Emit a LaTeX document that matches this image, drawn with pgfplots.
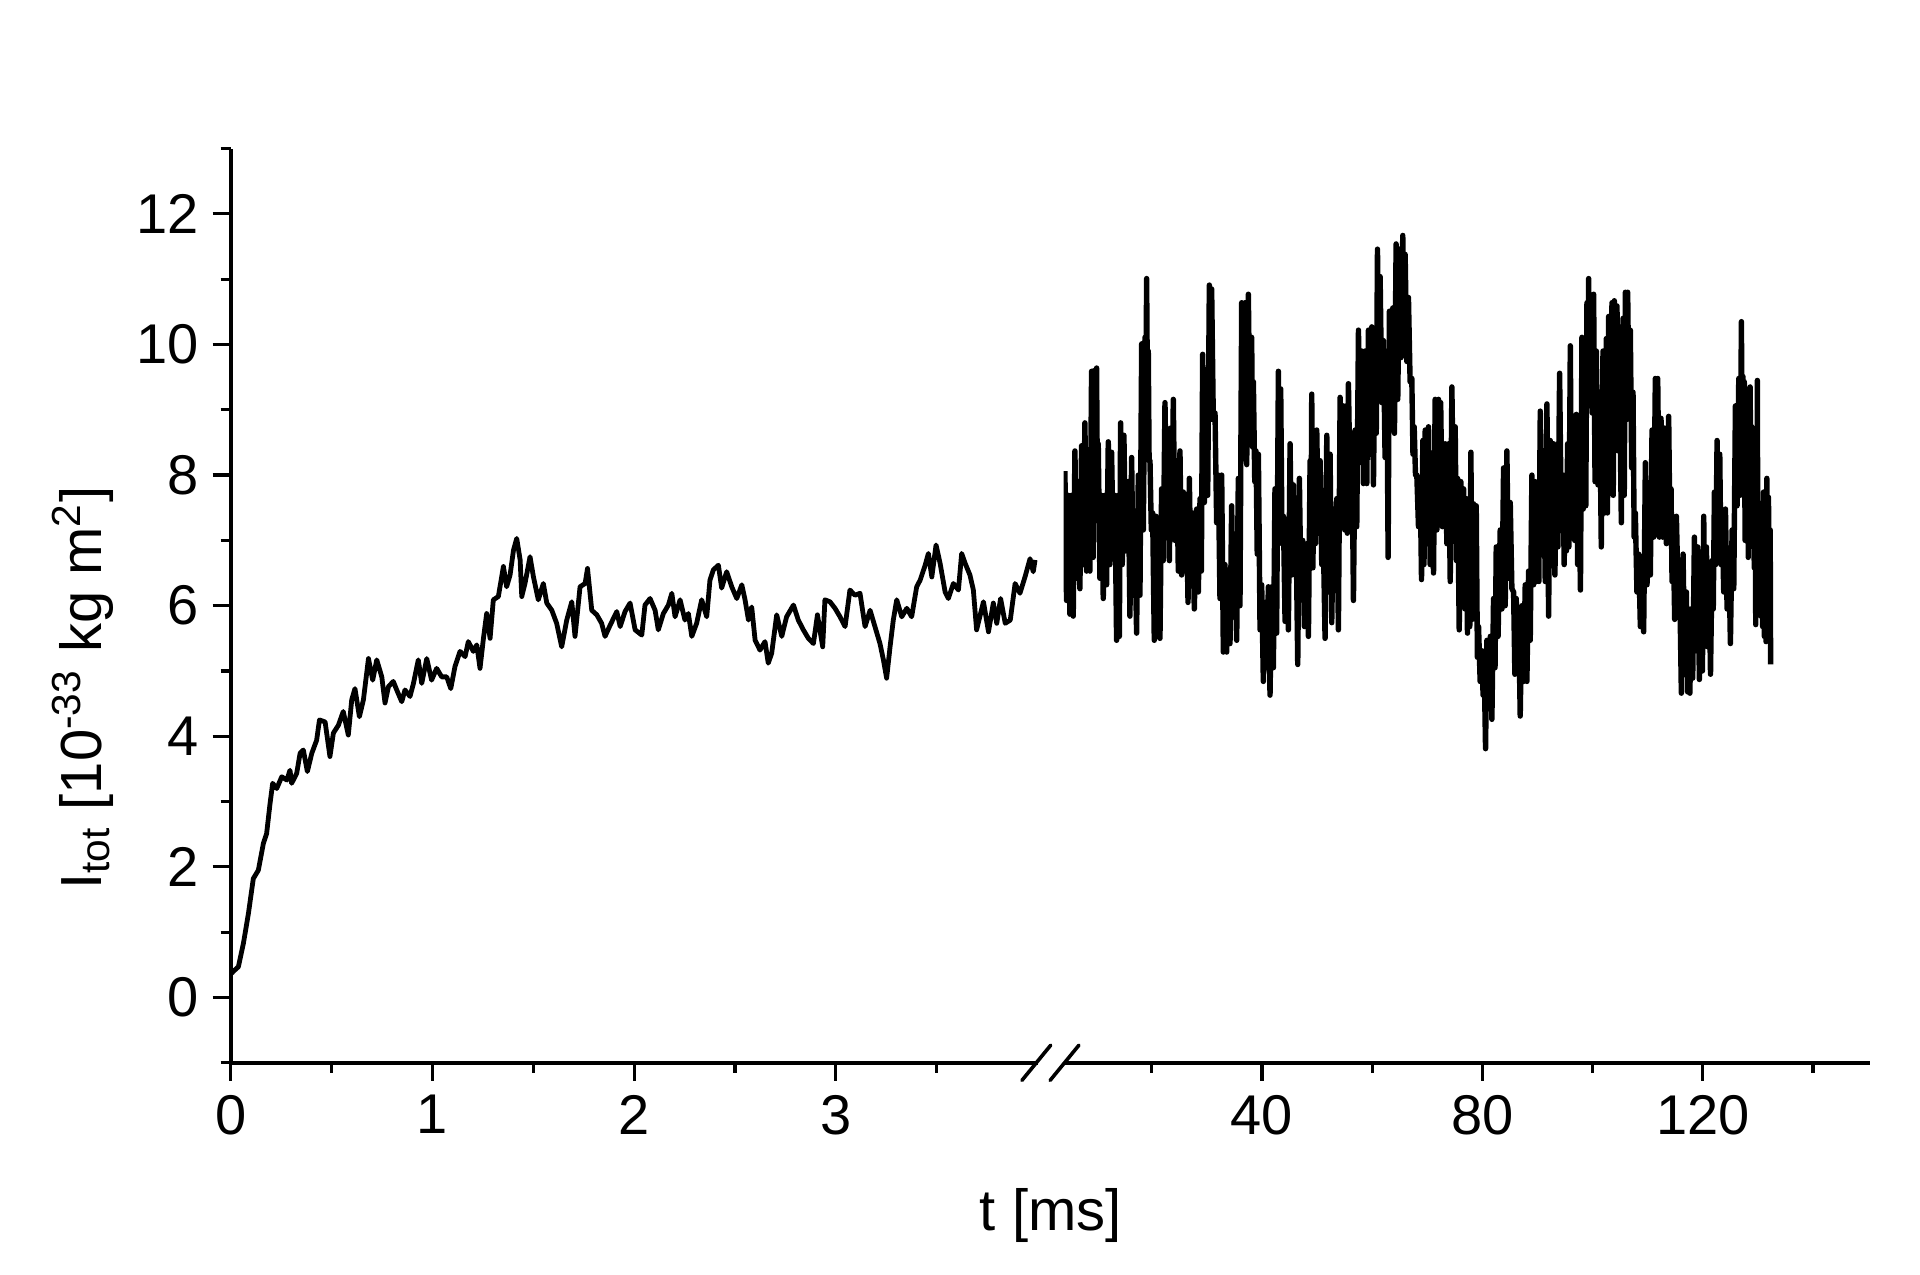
\documentclass[border=0pt]{standalone}
\usepackage{fontspec}
\setmainfont{Liberation Sans}
\usepackage{pgfplots}
\pgfplotsset{compat=1.18}
\begin{document}
\begin{tikzpicture}
\path[use as bounding box] (-57.68pt,-53.05pt) rectangle (422.32pt,265.7pt);
\pgfplotsset{
  brk/.style={
    scale only axis, width=201.7pt, height=228.55pt,
    ymin=-1, ymax=13,
    axis x line*=bottom,
    x axis line style={-, line width=0.9pt},
    y axis line style={-, line width=0.9pt},
    tick style={line width=0.8pt, black},
    tick align=outside,
    major tick length=4.5pt, minor tick length=2.5pt,
    tick label style={font=\fontsize{14}{16}\selectfont},
    /pgf/number format/assume math mode=true,
  },
  trace/.style={black, no markers, line width=1.2pt, line join=round},
}
% left part
\begin{axis}[brk, at={(0pt,0pt)}, anchor=south west,
  xmin=0, xmax=4,
  axis y line*=left,
  xtick={0,1,2,3}, minor xtick={0.5,1.5,2.5,3.5},
  ytick={0,2,...,12}, minor ytick={-1,1,...,13},
]
\addplot[trace] coordinates {
(0.005,0.37) (0.013,0.40) (0.038,0.47) (0.063,0.83) (0.088,1.29) (0.112,1.82) (0.137,1.95)
(0.162,2.36) (0.178,2.51) (0.195,2.97) (0.208,3.28) (0.228,3.20) (0.253,3.38) (0.278,3.33)
(0.294,3.48) (0.302,3.28) (0.327,3.43) (0.344,3.74) (0.360,3.79) (0.380,3.46) (0.402,3.74)
(0.426,3.94) (0.440,4.25) (0.468,4.22) (0.492,3.69) (0.509,4.05) (0.534,4.17) (0.558,4.38)
(0.583,4.02) (0.600,4.56) (0.616,4.73) (0.638,4.30) (0.658,4.56) (0.683,5.19) (0.704,4.86)
(0.724,5.17) (0.749,4.91) (0.765,4.51) (0.782,4.76) (0.806,4.84) (0.823,4.71) (0.848,4.53)
(0.864,4.71) (0.889,4.61) (0.906,4.81) (0.930,5.17) (0.947,4.81) (0.972,5.19) (0.996,4.86)
(1.021,5.04) (1.046,4.91) (1.071,4.91) (1.091,4.73) (1.112,5.07) (1.137,5.30) (1.162,5.22)
(1.178,5.45) (1.203,5.30) (1.220,5.40) (1.236,5.04) (1.253,5.50) (1.269,5.88) (1.286,5.50)
(1.302,6.09) (1.327,6.14) (1.352,6.60) (1.368,6.29) (1.385,6.47) (1.402,6.85) (1.418,7.03)
(1.435,6.70) (1.443,6.14) (1.459,6.34) (1.484,6.75) (1.501,6.44) (1.525,6.09) (1.550,6.34)
(1.567,6.04) (1.592,5.93) (1.616,5.73) (1.641,5.37) (1.666,5.78) (1.691,6.06) (1.707,5.53)
(1.732,6.29) (1.757,6.34) (1.769,6.57) (1.790,5.93) (1.815,5.86) (1.839,5.73) (1.856,5.53)
(1.881,5.70) (1.914,5.91) (1.931,5.68) (1.955,5.91) (1.980,6.04) (2.005,5.63) (2.038,5.55)
(2.054,6.01) (2.079,6.11) (2.104,5.93) (2.120,5.63) (2.145,5.88) (2.170,6.01) (2.187,6.19)
(2.203,5.83) (2.228,6.09) (2.252,5.78) (2.269,5.88) (2.286,5.53) (2.310,5.73) (2.335,6.09)
(2.360,5.83) (2.376,6.39) (2.393,6.55) (2.418,6.62) (2.434,6.27) (2.459,6.52) (2.484,6.29)
(2.509,6.11) (2.534,6.32) (2.550,6.09) (2.567,5.78) (2.583,5.98) (2.600,5.47) (2.624,5.32)
(2.649,5.45) (2.665,5.12) (2.682,5.27) (2.707,5.86) (2.732,5.53) (2.756,5.83) (2.790,6.01)
(2.814,5.78) (2.839,5.63) (2.864,5.50) (2.889,5.42) (2.909,5.86) (2.935,5.37) (2.946,6.09)
(2.971,6.06) (2.996,5.96) (3.021,5.83) (3.046,5.68) (3.070,6.24) (3.095,6.16) (3.120,6.19)
(3.145,5.68) (3.170,5.93) (3.194,5.68) (3.219,5.42) (3.236,5.17) (3.252,4.89) (3.269,5.37)
(3.285,5.78) (3.302,6.09) (3.327,5.83) (3.352,5.96) (3.376,5.83) (3.401,6.29) (3.418,6.39)
(3.443,6.62) (3.459,6.80) (3.476,6.44) (3.497,6.93) (3.517,6.65) (3.542,6.21) (3.558,6.11)
(3.583,6.34) (3.608,6.24) (3.624,6.80) (3.641,6.65) (3.665,6.47) (3.682,6.24) (3.698,5.63)
(3.732,6.06) (3.757,5.60) (3.781,6.04) (3.798,5.73) (3.817,6.11) (3.840,5.73) (3.865,5.78)
(3.889,6.34) (3.913,6.19) (3.938,6.44) (3.963,6.72) (3.979,6.52) (3.988,6.70)
};
\end{axis}
% right part
\begin{axis}[brk, at={(208.2pt,0pt)}, anchor=south west,
  xmin=4, xmax=150.4,
  axis y line=none,
  xtick={40,80,120}, minor xtick={20,60,100,140},
]
\addplot[trace, line width=1.35pt] coordinates {
(4.25,8.06) (4.55,6.08) (4.86,7.69) (5.16,5.87) (5.46,7.69) (5.76,5.84) (6.07,8.37) (6.37,6.42)
(6.67,7.90) (6.97,6.26) (7.28,8.45) (7.58,6.63) (7.88,8.80) (8.18,6.53) (8.49,8.22) (8.79,6.53)
(9.09,9.59) (9.39,6.74) (9.55,9.60) (9.80,7.30) (10.00,9.64) (10.15,7.69) (10.30,8.48) (10.60,6.42)
(10.91,7.69) (11.21,6.11) (11.51,7.69) (11.81,6.32) (12.12,8.51) (12.42,6.63) (12.72,8.35) (13.02,6.84)
(13.33,7.69) (13.63,5.47) (13.93,7.69) (14.13,5.53) (14.36,8.80) (14.66,6.63) (14.96,8.61) (15.26,6.84)
(15.75,7.90) (16.05,5.84) (16.36,8.27) (16.66,6.16) (16.96,7.00) (17.26,5.58) (17.57,8.00) (17.87,6.16)
(18.18,10.01) (18.48,7.16) (18.78,10.11) (18.93,9.16) (19.08,11.01) (19.23,9.16) (19.38,9.90) (19.53,8.22)
(19.69,8.22) (19.93,7.16) (20.17,7.42) (20.47,5.47) (20.77,7.37) (20.97,6.11) (21.20,7.00) (21.50,5.50)
(21.80,7.79) (22.10,6.69) (22.41,9.11) (22.71,7.42) (23.01,8.48) (23.21,6.69) (23.43,8.72) (23.68,7.32)
(23.92,9.16) (24.22,7.00) (24.53,8.22) (24.83,6.53) (25.13,8.37) (25.43,6.47) (25.74,7.74) (26.04,6.53)
(26.34,7.42) (26.59,6.05) (26.83,7.95) (27.13,6.32) (27.43,7.42) (27.73,5.95) (28.16,7.48) (28.46,6.21)
(28.77,7.64) (29.01,6.53) (29.25,9.85) (29.55,7.58) (29.86,9.16) (30.16,7.69) (30.46,10.91) (30.67,8.85)
(30.88,10.85) (31.18,8.85) (31.49,8.95) (31.79,7.27) (32.09,8.00) (32.39,6.11) (32.70,8.00) (33.00,5.29)
(33.30,6.63) (33.60,5.29) (33.91,6.53) (34.21,5.42) (34.51,7.53) (34.81,5.84) (35.12,6.53) (35.42,5.47)
(35.72,7.95) (36.02,6.00) (36.33,10.64) (36.63,8.43) (36.94,10.64) (37.24,8.16) (37.54,10.77) (37.84,8.53)
(38.14,10.11) (38.30,8.43) (38.45,9.43) (38.70,7.90) (38.93,8.37) (39.15,6.79) (39.36,8.32) (39.66,5.63)
(39.96,6.32) (40.26,4.84) (40.57,6.05) (40.87,5.05) (41.17,6.29) (41.47,4.63) (41.78,6.29) (42.08,5.05)
(42.37,7.79) (42.67,5.58) (42.99,9.59) (43.20,7.16) (43.41,9.32) (43.65,6.95) (43.90,7.37) (44.20,5.76)
(44.50,7.32) (44.80,5.63) (45.11,8.48) (45.41,6.47) (45.71,7.85) (45.95,6.53) (46.20,7.16) (46.50,5.10)
(46.80,7.95) (47.10,6.11) (47.41,7.00) (47.71,5.68) (48.14,6.95) (48.44,5.53) (48.74,8.22) (48.89,6.58)
(49.04,9.24) (49.25,6.58) (49.47,8.27) (49.70,6.95) (49.95,8.69) (50.25,7.11) (50.56,8.22) (50.86,6.63)
(51.16,6.95) (51.46,5.50) (51.77,8.61) (52.07,6.21) (52.37,8.32) (52.67,5.74) (52.98,7.48) (53.28,6.26)
(53.58,7.64) (53.88,5.63) (54.19,9.19) (54.49,7.53) (54.79,9.06) (55.03,7.16) (55.28,9.06) (55.50,7.11)
(55.70,9.40) (56.00,7.79) (56.31,8.64) (56.61,6.08) (56.91,8.69) (57.21,7.21) (57.52,10.22) (57.82,8.22)
(58.12,9.90) (58.42,7.87) (58.73,9.90) (59.03,7.87) (59.33,10.22) (59.63,8.32) (59.94,10.27) (60.24,7.85)
(60.53,10.17) (60.75,8.64) (60.97,11.46) (61.21,9.53) (61.45,11.04) (61.75,9.11) (62.05,10.06) (62.35,8.27)
(62.66,9.80) (62.90,6.74) (63.14,10.51) (63.44,8.69) (63.75,10.56) (64.05,8.64) (64.35,11.54) (64.65,9.16)
(64.96,11.46) (65.26,9.80) (65.56,11.67) (65.78,9.90) (65.99,11.38) (66.29,9.74) (66.59,10.72) (66.89,9.43)
(67.20,9.48) (67.41,8.32) (67.63,8.74) (67.87,8.00) (68.11,8.00) (68.41,7.21) (68.72,7.90) (68.96,6.40)
(69.20,8.53) (69.41,6.63) (69.63,8.69) (69.93,6.95) (70.23,8.74) (70.53,6.63) (70.84,7.79) (71.14,6.50)
(71.44,9.16) (71.74,7.16) (72.05,9.16) (72.25,7.27) (72.44,9.11) (72.74,7.21) (73.26,8.48) (73.56,6.95)
(73.87,8.48) (74.17,6.37) (74.47,9.35) (74.77,7.48) (75.07,8.74) (75.30,6.69) (75.50,7.95) (75.80,5.63)
(76.10,7.90) (76.35,6.16) (76.59,7.79) (76.85,5.95) (77.07,7.64) (77.30,5.58) (77.50,7.53) (77.72,5.68)
(77.92,8.35) (78.15,5.79) (78.41,7.56) (78.65,5.84) (78.89,7.53) (79.10,5.21) (79.31,5.68) (79.60,4.84)
(79.92,5.31) (80.13,4.63) (80.34,5.05) (80.58,3.81) (80.82,5.47) (81.12,4.42) (81.43,5.53) (81.73,4.26)
(82.03,6.11) (82.30,5.05) (82.52,6.90) (82.85,5.53) (83.24,7.16) (83.55,5.95) (83.85,8.11) (84.15,6.00)
(84.45,8.37) (84.75,6.42) (85.06,7.58) (85.36,6.26) (85.67,6.21) (85.90,4.95) (86.15,6.11) (86.36,5.00)
(86.57,5.90) (86.87,4.31) (87.18,6.00) (87.48,4.84) (87.78,6.32) (88.08,4.84) (88.39,6.53) (88.69,5.47)
(88.99,8.00) (89.29,6.32) (89.60,7.90) (89.80,6.37) (90.02,7.53) (90.25,6.37) (90.51,8.98) (90.81,6.84)
(91.11,8.37) (91.41,6.37) (91.72,9.09) (92.02,5.84) (92.32,8.53) (92.62,6.69) (92.93,8.48) (93.17,6.47)
(93.41,8.11) (93.71,6.90) (94.02,9.56) (94.32,7.27) (94.63,8.00) (94.85,6.63) (95.05,8.00) (95.26,6.84)
(95.47,8.48) (95.70,6.90) (95.96,9.98) (96.20,7.16) (96.44,8.64) (96.75,7.00) (97.05,8.93) (97.30,6.63)
(97.53,7.90) (97.80,6.24) (98.07,10.11) (98.30,7.48) (98.56,8.74) (98.77,7.53) (98.98,10.64) (99.14,9.06)
(99.29,11.01) (99.50,9.06) (99.71,10.75) (99.95,8.95) (100.19,10.77) (100.45,7.90) (100.68,9.90) (100.98,7.85)
(101.28,9.27) (101.58,6.90) (101.89,9.90) (102.19,7.42) (102.49,10.09) (102.70,7.42) (102.92,10.43) (103.22,7.85)
(103.52,10.64) (103.75,7.69) (103.95,10.67) (104.20,8.48) (104.43,10.59) (104.68,8.37) (104.92,9.27) (105.22,7.27)
(105.52,10.40) (105.75,7.69) (105.95,10.80) (106.15,8.85) (106.37,10.80) (106.60,9.06) (106.85,10.22) (107.10,8.11)
(107.34,9.27) (107.55,7.05) (107.76,7.42) (108.05,6.21) (108.37,6.79) (108.67,5.68) (108.97,6.74) (109.27,5.60)
(109.58,8.19) (109.88,6.32) (110.18,7.74) (110.48,6.47) (110.79,8.69) (111.09,7.05) (111.39,9.48) (111.60,7.95)
(111.82,9.48) (112.12,7.05) (112.42,8.87) (112.72,7.05) (113.03,8.72) (113.40,6.95) (113.81,8.90) (114.02,7.27)
(114.24,7.79) (114.42,6.37) (114.60,7.27) (114.90,5.79) (115.21,7.37) (115.51,6.21) (115.81,6.32) (116.11,4.66)
(116.42,6.79) (116.72,5.10) (117.02,6.21) (117.25,4.68) (117.45,5.42) (117.66,4.66) (117.87,5.95) (118.17,4.89)
(118.48,7.05) (118.78,5.31) (119.08,6.90) (119.38,4.87) (119.69,6.63) (119.93,5.00) (120.17,7.37) (120.42,5.42)
(120.66,6.90) (120.90,5.37) (121.14,6.47) (121.40,4.95) (121.69,6.69) (121.90,5.95) (122.11,7.74) (122.35,6.63)
(122.59,8.53) (122.85,6.79) (123.08,8.32) (123.30,6.63) (123.50,7.37) (123.80,6.21) (124.11,7.48) (124.41,5.95)
(124.71,6.84) (125.01,5.42) (125.32,7.16) (125.62,6.26) (125.92,9.06) (126.22,7.53) (126.53,9.48) (126.75,7.69)
(127.01,10.35) (127.15,8.22) (127.29,9.51) (127.41,7.74) (127.53,9.43) (127.68,7.00) (127.83,8.98) (127.98,7.37)
(128.13,8.98) (128.25,6.74) (128.38,9.24) (128.48,7.58) (128.59,9.35) (128.73,7.69) (128.89,8.74) (129.04,7.16)
(129.19,7.95) (129.34,6.58) (129.50,7.53) (129.61,5.71) (129.71,7.79) (129.81,6.42) (129.90,9.45) (130.00,6.11)
(130.11,7.58) (130.26,6.05) (130.41,7.48) (130.56,5.84) (130.71,7.27) (130.86,5.68) (131.02,7.74) (131.17,5.53)
(131.32,7.53) (131.47,5.45) (131.62,7.95) (131.77,5.58) (131.92,7.66) (132.07,5.84) (132.23,7.16) (132.31,5.10)
};
\end{axis}
% axis break marks
\draw[line width=0.9pt, line cap=round] (197.8pt,-4.4pt) -- (205.0pt,4.4pt);
\draw[line width=0.9pt, line cap=round] (204.85pt,-4.4pt) -- (212.05pt,4.4pt);
% axis labels
\node[font=\fontsize{14.5}{17}\selectfont] at (205pt,-38.3pt) {t [ms]};
\node[rotate=90, font=\fontsize{14.5}{17}\selectfont] at (-37pt,93.7pt)
  {I\textsubscript{tot} [10\textsuperscript{-33} kg m\textsuperscript{2}]};
\end{tikzpicture}
\end{document}
